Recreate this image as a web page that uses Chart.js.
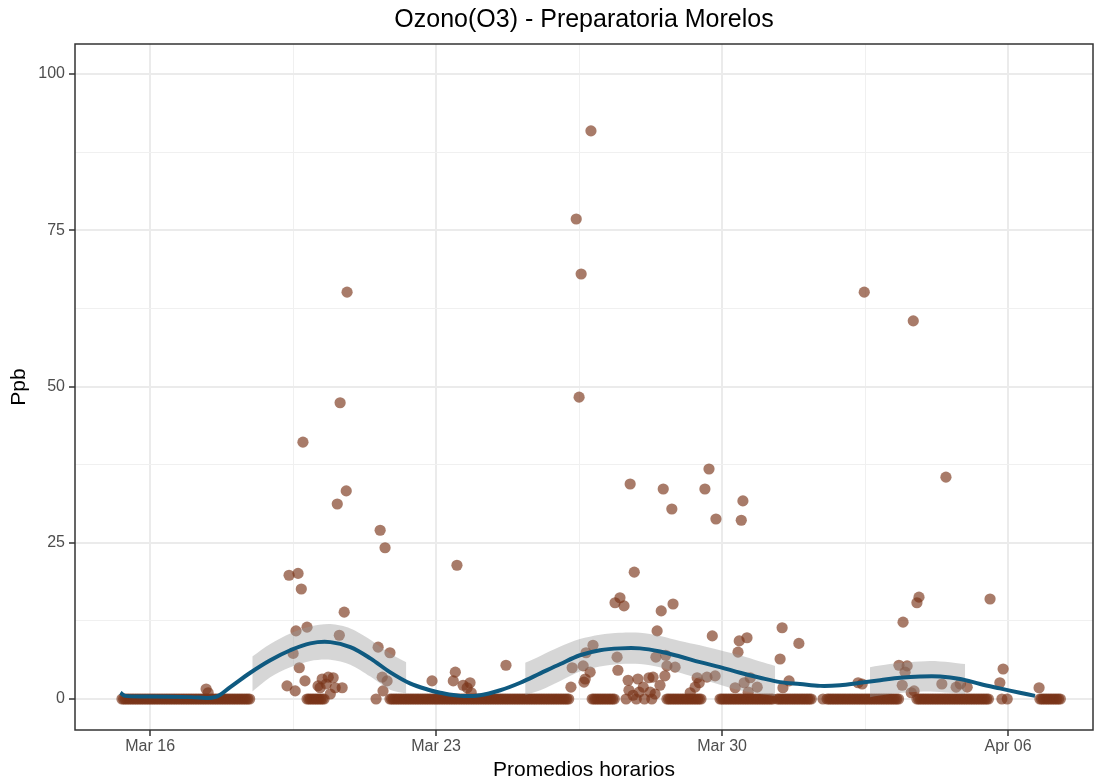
<!DOCTYPE html>
<html>
<head>
<meta charset="utf-8">
<script src="https://cdn.jsdelivr.net/npm/chart.js@4/dist/chart.umd.min.js"></script>
<style>
  html, body { margin: 0; padding: 0; background: #fff; }
</style>
</head>
<body>
<canvas id="chart" width="1101" height="783"></canvas>
<script>
// x values are days of March (32 = Apr 01)
const titleText = 'Ozono(O3) - Preparatoria Morelos';
const xTickDays = [16, 23, 30, 37];
const xTickLabels = ['Mar 16', 'Mar 23', 'Mar 30', 'Apr 06'];
const xMinorDays = [19.5, 26.5, 33.5];
const yTicks = [0, 25, 50, 75, 100];
const yMinor = [12.5, 37.5, 62.5, 87.5];

// stretches of hourly readings that sit at 0 ppb
const zeroRuns = [[15.31, 18.45], [19.84, 20.28], [21.87, 26.28], [26.82, 27.40], [28.65, 29.50],
  [29.95, 31.25], [31.35, 32.20], [32.57, 34.36], [34.77, 36.56], [37.78, 38.32]];
const zeroSingles = [21.53, 27.65, 27.90, 28.10, 28.28, 32.47, 36.85, 36.98];

// the other hourly readings
const obsDays = [17.37, 17.42, 19.35, 19.40, 19.50, 19.55, 19.57, 19.62, 19.65, 19.70, 19.74, 19.79, 19.84,
  20.11, 20.16, 20.21, 20.31, 20.36, 20.41, 20.48, 20.53, 20.58, 20.63, 20.65, 20.70, 20.75, 20.80, 20.82,
  21.58, 21.63, 21.68, 21.70, 21.75, 21.80, 21.87, 22.90, 23.42, 23.47, 23.51, 23.66, 23.76, 23.83, 23.86,
  24.71, 26.30, 26.33, 26.43, 26.50, 26.55, 26.60, 26.62, 26.65, 26.67, 26.77, 26.79, 26.84,
  27.38, 27.43, 27.45, 27.50, 27.60, 27.70, 27.72, 27.75, 27.82, 27.85, 27.94, 27.97, 28.07, 28.21, 28.24,
  28.31, 28.36, 28.38, 28.41, 28.48, 28.51, 28.56, 28.60, 28.62, 28.65, 28.77, 28.80, 28.85,
  29.22, 29.34, 29.39, 29.44, 29.58, 29.63, 29.68, 29.76, 29.83, 29.85, 30.32, 30.39, 30.42, 30.47, 30.51,
  30.54, 30.61, 30.64, 30.69, 30.86, 31.42, 31.47, 31.49, 31.64, 31.88, 33.33, 33.43, 33.48,
  34.33, 34.41, 34.43, 34.48, 34.53, 34.63, 34.68, 34.70, 34.77, 34.82, 35.38, 35.48, 35.73, 35.83, 36.00,
  36.56, 36.80, 36.88, 37.76];
const obsPpb = [1.6, 1.0, 2.1, 19.8, 7.3, 1.3, 10.9, 20.1, 5.0, 17.6, 41.1, 2.9, 11.5,
  2.1, 1.8, 3.2, 2.4, 3.5, 0.8, 3.4, 1.8, 31.2, 10.2, 47.4, 1.8, 13.9, 33.3, 65.1,
  8.3, 27.0, 3.5, 1.3, 24.2, 2.9, 7.4, 2.9, 2.9, 4.3, 21.4, 2.2, 1.8, 2.6, 1.0,
  5.4, 1.9, 5.0, 76.8, 48.3, 68.0, 5.3, 2.7, 3.2, 7.4, 4.3, 90.9, 8.6,
  15.4, 6.7, 4.6, 16.2, 14.9, 3.0, 1.4, 34.4, 0.6, 20.3, 3.2, 1.1, 1.9, 3.4, 1.1,
  3.5, 0.8, 6.7, 10.9, 2.2, 14.1, 33.6, 3.7, 7.0, 5.3, 30.4, 15.2, 5.1,
  1.0, 1.9, 3.4, 2.6, 33.6, 3.5, 36.8, 10.1, 3.7, 28.8, 1.8, 7.5, 9.3, 28.6, 31.7,
  2.6, 9.8, 1.1, 3.4, 1.9, 6.4, 11.4, 1.8, 2.9, 8.9, 2.6, 2.4, 65.1,
  5.4, 2.2, 12.3, 4.3, 5.3, 1.0, 60.5, 1.3, 15.4, 16.3, 2.4, 35.5, 1.9, 2.4, 1.9,
  16.0, 2.6, 4.8, 1.8];

// smoothed trend
const smoothDays = [15.27, 15.39, 16.0, 17.0, 17.59, 17.96, 18.45, 18.94, 19.43, 19.92, 20.41, 20.90, 21.39,
  21.87, 22.36, 22.85, 23.10, 23.59, 24.08, 24.57, 25.06, 25.55, 26.04, 26.52, 27.01, 27.50, 27.99, 28.48,
  28.97, 29.46, 29.95, 30.44, 30.93, 31.42, 31.91, 32.40, 32.89, 33.38, 33.87, 34.36, 34.85, 35.34, 35.83,
  36.32, 36.80, 37.29, 37.66];
const smoothPpb = [1.0, 0.5, 0.4, 0.3, 0.3, 1.9, 4.2, 6.2, 7.8, 8.9, 9.1, 8.3, 6.5,
  4.3, 2.5, 1.4, 1.0, 0.5, 0.6, 1.4, 2.6, 4.1, 5.6, 7.0, 7.8, 8.1, 8.1, 7.6,
  6.8, 5.9, 5.1, 4.2, 3.4, 2.7, 2.4, 2.1, 2.2, 2.6, 3.0, 3.4, 3.6, 3.6, 3.2,
  2.4, 1.7, 1.0, 0.5];

// confidence band, only the parts inside the y limits
const band1Days = [18.50, 18.94, 19.43, 19.92, 20.41, 20.90, 21.39, 21.87, 22.27];
const band1Upper = [6.8, 8.8, 10.5, 11.6, 12.0, 11.3, 9.5, 7.3, 5.9];
const band1Lower = [1.2, 3.5, 5.1, 6.1, 6.3, 5.5, 3.6, 1.5, 0.9];
const band2Days = [25.18, 25.55, 26.04, 26.52, 27.01, 27.50, 27.99, 28.48, 28.97, 29.46, 29.95, 30.44, 30.93, 31.30];
const band2Upper = [5.8, 6.9, 8.4, 9.6, 10.3, 10.6, 10.6, 10.1, 9.3, 8.6, 7.8, 7.0, 6.0, 5.3];
const band2Lower = [0.6, 1.4, 2.9, 4.4, 5.2, 5.6, 5.6, 5.1, 4.2, 3.2, 2.3, 1.4, 0.8, 0.5];
const band3Days = [33.62, 34.11, 34.60, 35.09, 35.58, 35.95];
const band3Upper = [5.1, 5.6, 5.9, 6.1, 5.9, 5.6];
const band3Lower = [0.3, 0.8, 1.1, 1.2, 1.0, 0.8];

const pts = [];
zeroRuns.forEach(([a, b]) => {
  for (let t = a; t <= b + 1e-6; t += 1 / 24) pts.push({ x: t, y: 0 });
});
zeroSingles.forEach(d => pts.push({ x: d, y: 0 }));
obsDays.forEach((d, i) => pts.push({ x: d, y: obsPpb[i] }));

const xy = (xs, ys) => xs.map((x, i) => ({ x, y: ys[i] }));
const bandFill = 'rgba(153,153,153,0.4)';
function bandPair(days, up, lo) {
  return [
    { data: xy(days, up), fill: '+1', backgroundColor: bandFill, borderWidth: 0, pointRadius: 0, tension: 0.3, order: 1 },
    { data: xy(days, lo), fill: false, borderWidth: 0, pointRadius: 0, tension: 0.3, order: 1 }
  ];
}

const frame = {
  id: 'frame',
  afterDraw(chart) {
    const { ctx, chartArea: a } = chart;
    ctx.save();
    ctx.strokeStyle = '#333';
    ctx.lineWidth = 1.5;
    ctx.strokeRect(a.left, a.top, a.right - a.left, a.bottom - a.top);
    ctx.fillStyle = '#000';
    ctx.font = '25px "Liberation Sans", Arial, sans-serif';
    ctx.textAlign = 'center';
    ctx.textBaseline = 'middle';
    ctx.fillText(titleText, (a.left + a.right) / 2, 20);
    ctx.restore();
  }
};

const isMajorX = v => xTickDays.includes(v);
const isMajorY = v => yTicks.includes(v);

new Chart(document.getElementById('chart'), {
  type: 'line',
  data: {
    datasets: [
      { data: xy(smoothDays, smoothPpb), borderColor: '#0f5a80', borderWidth: 4, pointRadius: 0,
        tension: 0.35, fill: false, order: 0 },
      ...bandPair(band1Days, band1Upper, band1Lower),
      ...bandPair(band2Days, band2Upper, band2Lower),
      ...bandPair(band3Days, band3Upper, band3Lower),
      { data: pts, showLine: false, pointRadius: 5.6, pointBorderWidth: 0,
        pointBackgroundColor: 'rgba(122,52,24,0.65)', order: 2 }
    ]
  },
  options: {
    responsive: false,
    devicePixelRatio: 1,
    animation: false,
    events: [],
    layout: { padding: { left: 0, right: 8, top: 44, bottom: 0 } },
    plugins: { legend: { display: false }, tooltip: { enabled: false }, title: { display: false } },
    scales: {
      x: {
        type: 'linear', min: 14.16, max: 39.08,
        afterBuildTicks: s => { s.ticks = [...xTickDays, ...xMinorDays].sort((a, b) => a - b).map(v => ({ value: v })); },
        afterFit: s => { s.height = 53; },
        border: { display: false },
        grid: {
          color: c => (c.tick && isMajorX(c.tick.value)) ? '#ebebeb' : '#f0f0f0',
          lineWidth: c => (c.tick && isMajorX(c.tick.value)) ? 2 : 1,
          tickColor: c => (c.tick && isMajorX(c.tick.value)) ? '#333' : 'rgba(0,0,0,0)',
          tickLength: 6, tickWidth: 1.5
        },
        ticks: {
          autoSkip: false, maxRotation: 0, padding: 1, color: '#4d4d4d',
          font: { family: '"Liberation Sans", Arial, sans-serif', size: 16 },
          callback: v => { const i = xTickDays.indexOf(v); return i >= 0 ? xTickLabels[i] : ''; }
        },
        title: { display: true, text: 'Promedios horarios', color: '#000',
          font: { family: '"Liberation Sans", Arial, sans-serif', size: 21 }, padding: { top: 0, bottom: 0 } }
      },
      y: {
        min: -4.96, max: 104.8,
        afterBuildTicks: s => { s.ticks = [...yTicks, ...yMinor].sort((a, b) => a - b).map(v => ({ value: v })); },
        afterFit: s => { s.width = 75; },
        border: { display: false },
        grid: {
          color: c => (c.tick && isMajorY(c.tick.value)) ? '#ebebeb' : '#f0f0f0',
          lineWidth: c => (c.tick && isMajorY(c.tick.value)) ? 2 : 1,
          tickColor: c => (c.tick && isMajorY(c.tick.value)) ? '#333' : 'rgba(0,0,0,0)',
          tickLength: 6, tickWidth: 1.5
        },
        ticks: {
          autoSkip: false, padding: 4, color: '#4d4d4d',
          font: { family: '"Liberation Sans", Arial, sans-serif', size: 16 },
          callback: v => isMajorY(v) ? String(v) : ''
        },
        title: { display: true, text: 'Ppb', color: '#000',
          font: { family: '"Liberation Sans", Arial, sans-serif', size: 21 }, padding: { top: 7, bottom: 0 } }
      }
    }
  },
  plugins: [frame]
});
</script>
</body>
</html>
